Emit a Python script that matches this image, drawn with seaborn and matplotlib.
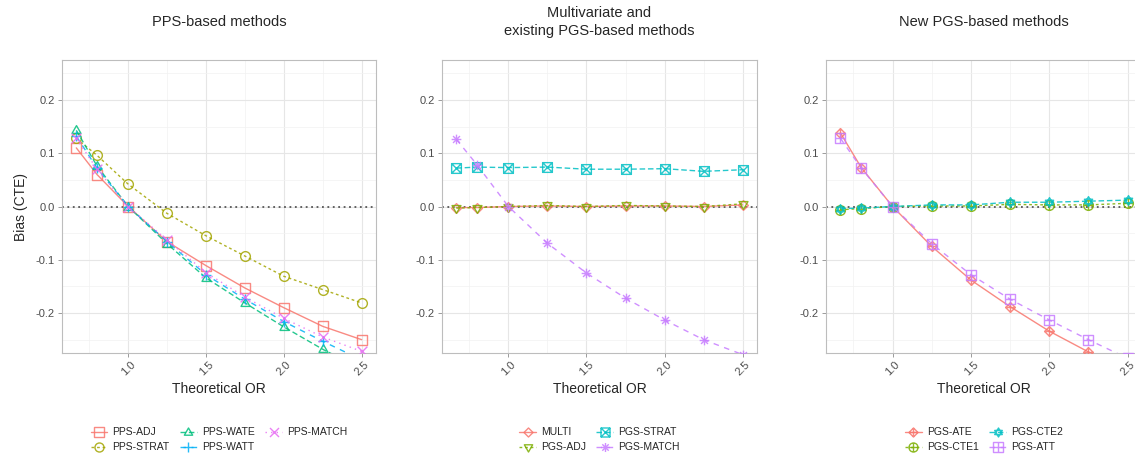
import numpy as np
import pandas as pd
import matplotlib
matplotlib.use("Agg")
import matplotlib.pyplot as plt
from matplotlib.path import Path
from matplotlib.markers import MarkerStyle
from matplotlib.lines import Line2D
from matplotlib.ticker import FixedLocator
import seaborn as sns

# ---------------- data ----------------
odds_ratio = [0.667, 0.8, 1.0, 1.25, 1.5, 1.75, 2.0, 2.25, 2.5]

panel_titles = ["PPS-based methods",
                "Multivariate and\nexisting PGS-based methods",
                "New PGS-based methods"]

pps_methods = ["PPS-ADJ", "PPS-STRAT", "PPS-WATE", "PPS-WATT", "PPS-MATCH"]
pps_adj = [0.110, 0.060, 0.000, -0.066, -0.111, -0.153, -0.190, -0.225, -0.250]
pps_strat = [0.128, 0.096, 0.042, -0.013, -0.055, -0.093, -0.131, -0.156, -0.181]
pps_wate = [0.143, 0.076, 0.000, -0.070, -0.134, -0.181, -0.226, -0.268, -0.305]
pps_watt = [0.132, 0.072, 0.000, -0.066, -0.128, -0.174, -0.216, -0.253, -0.288]
pps_match = [0.128, 0.070, 0.000, -0.063, -0.124, -0.170, -0.210, -0.245, -0.272]

mid_methods = ["MULTI", "PGS-ADJ", "PGS-STRAT", "PGS-MATCH"]
multi = [-0.002, -0.002, 0.000, 0.001, 0.000, 0.001, 0.001, 0.000, 0.003]
pgs_adj = [-0.003, -0.002, 0.000, 0.002, 0.000, 0.002, 0.001, 0.000, 0.005]
pgs_strat = [0.072, 0.074, 0.073, 0.074, 0.070, 0.070, 0.071, 0.066, 0.069]
pgs_match = [0.126, 0.078, 0.000, -0.069, -0.125, -0.172, -0.213, -0.250, -0.278]

new_methods = ["PGS-ATE", "PGS-CTE1", "PGS-CTE2", "PGS-ATT"]
pgs_ate = [0.138, 0.073, 0.000, -0.075, -0.138, -0.188, -0.234, -0.273, -0.310]
pgs_cte1 = [-0.006, -0.004, 0.000, 0.001, 0.001, 0.004, 0.003, 0.003, 0.006]
pgs_cte2 = [-0.004, -0.003, 0.000, 0.003, 0.003, 0.008, 0.008, 0.010, 0.012]
pgs_att = [0.128, 0.072, 0.000, -0.070, -0.128, -0.174, -0.213, -0.250, -0.285]

x_ticks = [1.0, 1.5, 2.0, 2.5]
x_tick_labels = ["1.0", "1.5", "2.0", "2.5"]
y_ticks = [-0.2, -0.1, 0.0, 0.1, 0.2]
y_tick_labels = ["-0.2", "-0.1", "0.0", "0.1", "0.2"]

# ---------------- marker shapes (ggplot shapes 0-12) ----------------
M, L, C = Path.MOVETO, Path.LINETO, Path.CLOSEPOLY


def poly(pts):
    verts = list(pts) + [pts[0]]
    codes = [M] + [L] * (len(pts) - 1) + [C]
    return Path(verts, codes)


def segs(pairs):
    verts, codes = [], []
    for a, b in pairs:
        verts += [a, b]
        codes += [M, L]
    return Path(verts, codes)


def compound(*ps):
    return Path.make_compound_path(*ps)


SQ = poly([(-1, -1), (1, -1), (1, 1), (-1, 1)])
PLUS = segs([((-1.2, 0), (1.2, 0)), ((0, -1.2), (0, 1.2))])
CROSS = segs([((-1, -1), (1, 1)), ((-1, 1), (1, -1))])
CIRC = Path(Path.unit_circle().vertices * 1.15, Path.unit_circle().codes)
TRI_UP = poly([(-1.15, -0.75), (1.15, -0.75), (0, 1.25)])
TRI_DN = poly([(-1.15, 0.75), (1.15, 0.75), (0, -1.25)])
DIAM = poly([(0, -1.35), (1.35, 0), (0, 1.35), (-1.35, 0)])
DPLUS = segs([((-1.35, 0), (1.35, 0)), ((0, -1.35), (0, 1.35))])
AST = segs([((-1.2, 0), (1.2, 0)), ((0, -1.2), (0, 1.2)),
            ((-0.85, -0.85), (0.85, 0.85)), ((-0.85, 0.85), (0.85, -0.85))])
SQPLUS = segs([((-1, 0), (1, 0)), ((0, -1), (0, 1))])
CPLUS = segs([((-1.15, 0), (1.15, 0)), ((0, -1.15), (0, 1.15))])
STAR_UP = poly([(-1.1, -0.6), (1.1, -0.6), (0, 1.3)])
STAR_DN = poly([(-1.1, 0.6), (1.1, 0.6), (0, -1.3)])


def ms(path):
    return MarkerStyle(path, fillstyle="none")


shape_paths = {
    0: SQ, 1: CIRC, 2: TRI_UP, 3: PLUS, 4: CROSS,
    5: DIAM, 6: TRI_DN, 7: compound(SQ, CROSS), 8: AST,
    9: compound(DIAM, DPLUS), 10: compound(CIRC, CPLUS),
    11: compound(STAR_UP, STAR_DN), 12: compound(SQ, SQPLUS),
}

pal5 = ["#F8766D", "#A3A500", "#00BF7D", "#00B0F6", "#E76BF3"]
pal4 = ["#F8766D", "#7CAE00", "#00BFC4", "#C77CFF"]
dash_seq = ["", (2, 2), (4, 2), (4, 4), (1, 3)]

panels = [
    (pps_methods, [pps_adj, pps_strat, pps_wate, pps_watt, pps_match], pal5, [0, 1, 2, 3, 4], 3),
    (mid_methods, [multi, pgs_adj, pgs_strat, pgs_match], pal4, [5, 6, 7, 8], 2),
    (new_methods, [pgs_ate, pgs_cte1, pgs_cte2, pgs_att], pal4, [9, 10, 11, 12], 2),
]

# ---------------- figure ----------------
sns.set_theme(style="white")
plt.rcParams["font.family"] = ["Liberation Sans", "DejaVu Sans"]
plt.rcParams["axes.unicode_minus"] = False

W, H = 1135, 462
fig = plt.figure(figsize=(W / 100, H / 100), dpi=100)
ax_px = [(62, 376), (442, 757), (826, 1142)]
top_px, bot_px = 60, 353

for i, (methods, series, pal, shapes, ncol) in enumerate(panels):
    l, r = ax_px[i]
    ax = fig.add_axes([l / W, 1 - bot_px / H, (r - l) / W, (bot_px - top_px) / H])
    rows = []
    for m, vals in zip(methods, series):
        for xv, yv in zip(odds_ratio, vals):
            rows.append({"OR": xv, "bias": yv, "method": m})
    df = pd.DataFrame(rows)
    palette = {m: c for m, c in zip(methods, pal)}
    markers = {m: ms(shape_paths[s]) for m, s in zip(methods, shapes)}
    dashes = {m: dash_seq[k] for k, m in enumerate(methods)}

    sns.lineplot(data=df, x="OR", y="bias", hue="method", style="method",
                 hue_order=methods, style_order=methods, palette=palette,
                 markers=markers, dashes=dashes, errorbar=None, legend=False,
                 linewidth=1.0, markersize=7, alpha=0.85, ax=ax, zorder=3)
    for ln in ax.lines:
        ln.set_markerfacecolor("none")
        ln.set_markeredgecolor(ln.get_color())
        ln.set_markeredgewidth(1.0)

    ax.axhline(0, color="#555555", lw=1.3, dashes=(1, 2), zorder=2)

    ax.set_xlim(0.575, 2.592)
    ax.set_ylim(-0.275, 0.275)
    ax.xaxis.set_major_locator(FixedLocator(x_ticks))
    ax.set_xticklabels(x_tick_labels, rotation=45, fontsize=8, color="#4d4d4d")
    ax.xaxis.set_minor_locator(FixedLocator([0.75, 1.25, 1.75, 2.25]))
    ax.yaxis.set_major_locator(FixedLocator(y_ticks))
    ax.set_yticklabels(y_tick_labels, fontsize=8, color="#4d4d4d")
    ax.yaxis.set_minor_locator(FixedLocator([-0.25, -0.15, -0.05, 0.05, 0.15, 0.25]))
    ax.grid(True, which="major", color="#e6e6e6", lw=0.8, zorder=0)
    ax.grid(True, which="minor", color="#f2f2f2", lw=0.5, zorder=0)
    ax.set_axisbelow(True)
    ax.tick_params(axis="both", which="major", length=3, width=0.6,
                   color="#8c8c8c", pad=2, bottom=True, left=True)
    ax.tick_params(axis="both", which="minor", length=0)
    for sp in ax.spines.values():
        sp.set_color("#bdbdbd")
        sp.set_linewidth(0.8)

    ax.set_xlabel("Theoretical OR", fontsize=10, labelpad=3)
    if i == 0:
        ax.set_ylabel("Bias (CTE)", fontsize=10, labelpad=6)
    else:
        ax.set_ylabel("")

    ax.text(0.5, 1 + 38 / (bot_px - top_px), panel_titles[i], transform=ax.transAxes,
            ha="center", va="center", fontsize=10.5, linespacing=1.45)

    handles = []
    for k, m in enumerate(methods):
        d = dash_seq[k]
        h = Line2D([], [], color=pal[k], lw=1.0, alpha=0.85,
                   marker=ms(shape_paths[shapes[k]]), markersize=6.5,
                   markerfacecolor="none", markeredgecolor=pal[k], markeredgewidth=1.0)
        if d:
            h.set_dashes(d)
        handles.append(h)
    ax.legend(handles, methods, loc="upper center",
              bbox_to_anchor=(0.5, -(423 - bot_px) / (bot_px - top_px)),
              ncol=ncol, frameon=False, fontsize=7.5, handlelength=1.6,
              handletextpad=0.5, columnspacing=1.0, labelspacing=0.5,
              borderaxespad=0)

fig.savefig("out.png", dpi=100)
